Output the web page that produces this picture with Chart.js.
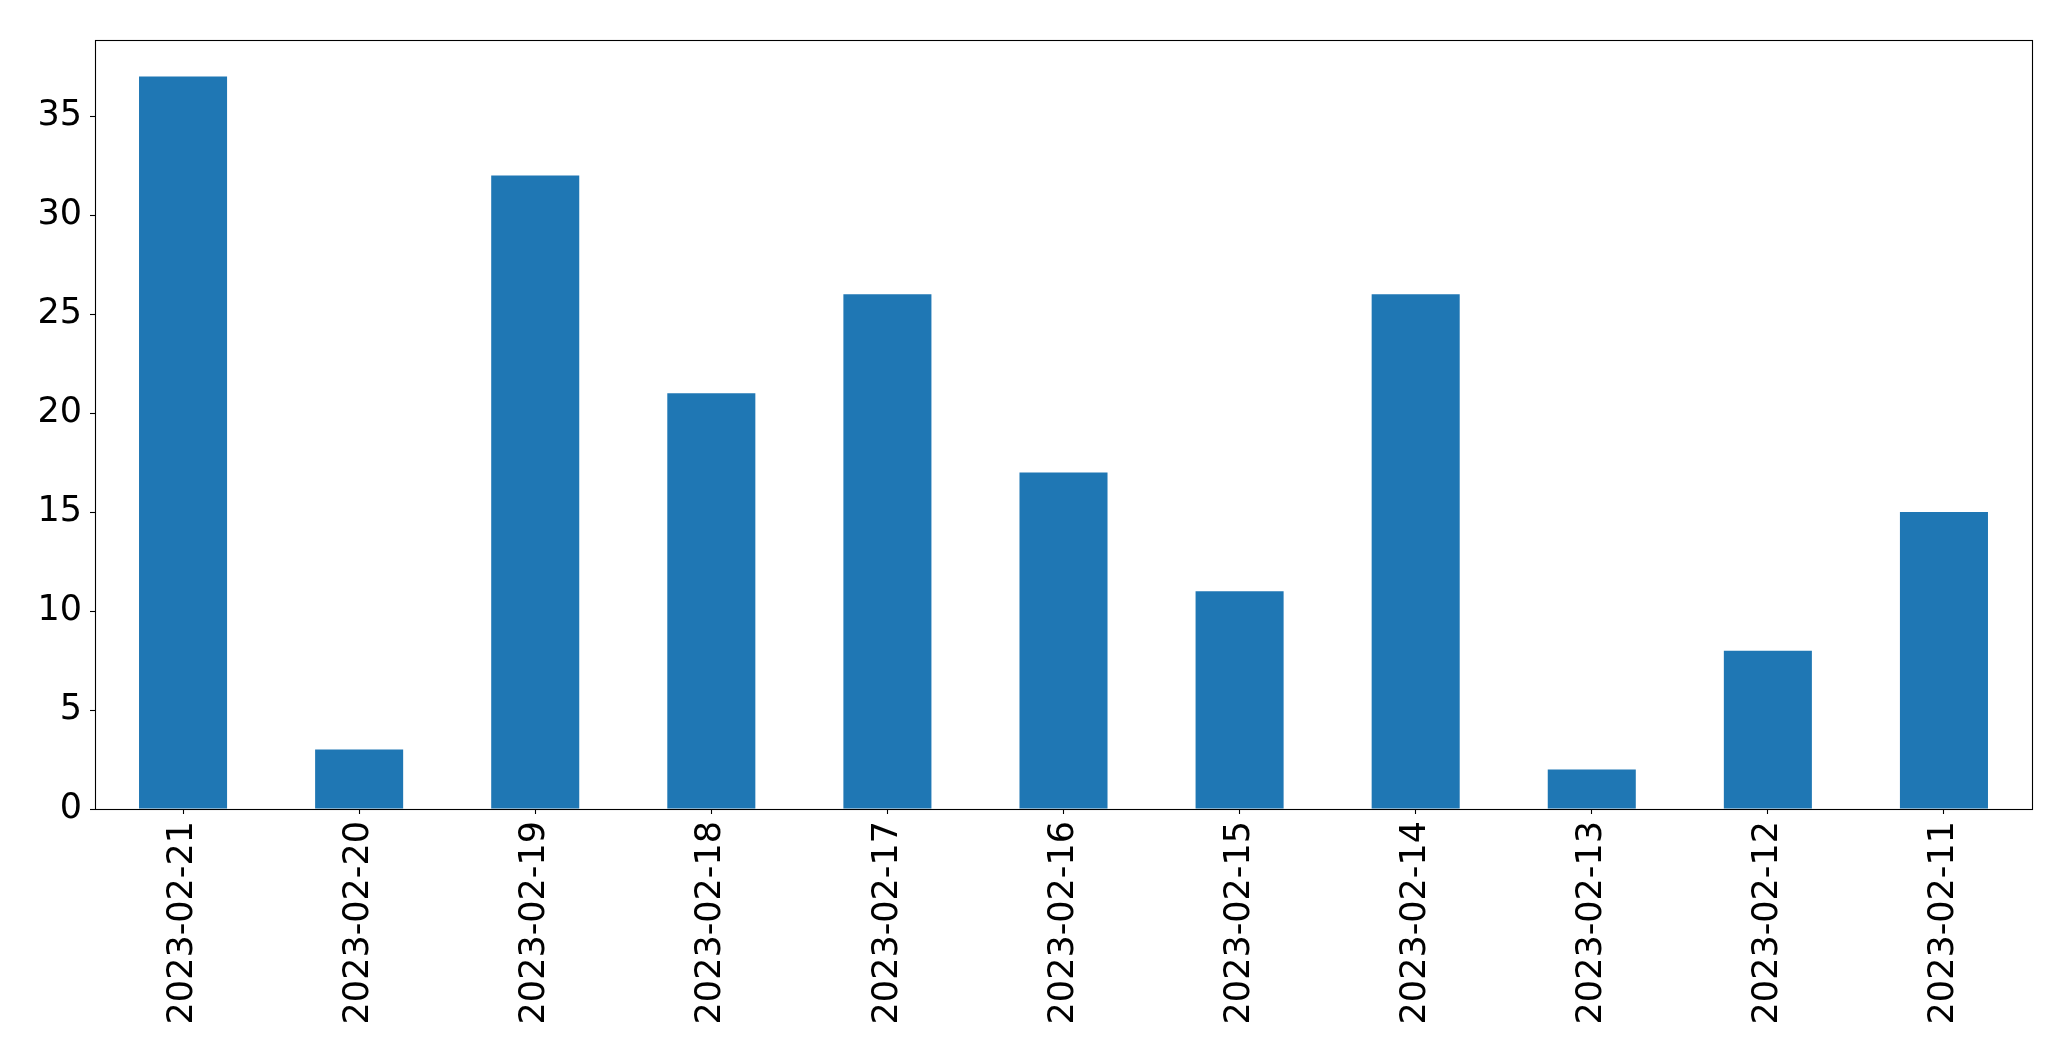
<!DOCTYPE html>
<html>
<head>
<meta charset="utf-8">
<script src="https://cdn.jsdelivr.net/npm/chart.js@4/dist/chart.umd.min.js"></script>
<style>
  html, body { margin: 0; padding: 0; background: #fff; }
  #wrap { width: 2071px; height: 1061px; }
</style>
</head>
<body>
<div id="wrap"><canvas id="myCanvas" width="2071" height="1061"></canvas></div>
<script>
// dates run backwards, like the source table
let dates = ["2023-02-21", "2023-02-20", "2023-02-19", "2023-02-18", "2023-02-17", "2023-02-16",
  "2023-02-15", "2023-02-14", "2023-02-13", "2023-02-12", "2023-02-11"];
let counts = [37, 3, 32, 21, 26, 17, 11, 26, 2, 8, 15];
let yTicks = [0, 5, 10, 15, 20, 25, 30, 35];
let yMax = 38.85;

// white page + black box round the plot
const boxPlugin = {
  id: "box",
  beforeDraw(chart) {
    let ctx = chart.ctx;
    ctx.save();
    ctx.fillStyle = "#fff";
    ctx.fillRect(0, 0, chart.width, chart.height);
    ctx.restore();
  },
  afterDraw(chart) {
    let a = chart.chartArea;
    let ctx = chart.ctx;
    ctx.save();
    ctx.strokeStyle = "#000";
    ctx.lineWidth = 1.1;
    ctx.strokeRect(Math.round(a.left) + 0.5, Math.round(a.top) + 0.5,
      Math.round(a.right - a.left), Math.round(a.bottom - a.top));
    ctx.restore();
  }
};

const tickFont = { family: "'DejaVu Sans'", size: 35 };

const config = {
  type: "bar",
  data: {
    labels: dates,
    datasets: [{
      data: counts,
      backgroundColor: "#1f77b4",
      borderWidth: 0,
      categoryPercentage: 1,
      barPercentage: 0.5
    }]
  },
  options: {
    responsive: false,
    animation: false,
    devicePixelRatio: 1,
    layout: { padding: { top: 40, right: 39, left: 0, bottom: 0 } },
    plugins: { legend: { display: false }, tooltip: { enabled: false } },
    scales: {
      x: {
        afterFit(scale) { scale.height = 252; },
        grid: { display: true, offset: false, drawOnChartArea: false, tickLength: 5, color: "#000", tickWidth: 1.1 },
        border: { display: false },
        ticks: { color: "#000", font: tickFont, minRotation: 90, maxRotation: 90, padding: 7, autoSkip: false }
      },
      y: {
        min: 0,
        max: yMax,
        afterFit(scale) { scale.width = 95; },
        afterBuildTicks(scale) { scale.ticks = yTicks.map(v => ({ value: v })); },
        grid: { display: true, drawOnChartArea: false, tickLength: 5, color: "#000", tickWidth: 1.1 },
        border: { display: false },
        ticks: { color: "#000", font: tickFont, padding: 8, includeBounds: false }
      }
    }
  },
  plugins: [boxPlugin]
};

new Chart(document.getElementById("myCanvas"), config);
</script>
</body>
</html>
